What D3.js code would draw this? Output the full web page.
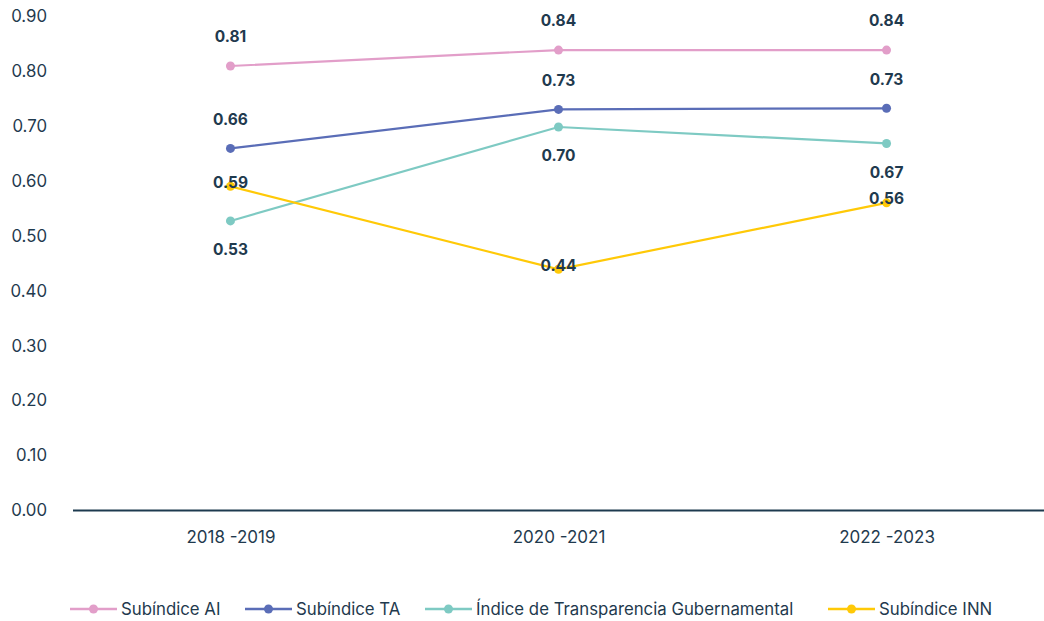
<!DOCTYPE html>
<html><head><meta charset="utf-8">
<script src="https://cdn.jsdelivr.net/npm/d3@7"></script>
<style>
body{margin:0;background:#fff;}
svg{display:block;font-family:"Inter","Roboto",sans-serif;}
</style></head>
<body><svg id="c" width="1044" height="621"></svg>
<script>
const categories = ["2018 -2019", "2020 -2021", "2022 -2023"];
const seriesNames = ["Subíndice AI", "Subíndice TA", "Índice de Transparencia Gubernamental", "Subíndice INN"];
const subAI = [0.809, 0.838, 0.838];
const subTA = [0.659, 0.730, 0.732];
const itg = [0.527, 0.698, 0.668];
const subINN = [0.590, 0.439, 0.560];
const labelsAI = ["0.81", "0.84", "0.84"];
const labelsTA = ["0.66", "0.73", "0.73"];
const labelsITG = ["0.53", "0.70", "0.67"];
const labelsINN = ["0.59", "0.44", "0.56"];
const yTicks = [0, 0.1, 0.2, 0.3, 0.4, 0.5, 0.6, 0.7, 0.8, 0.9];

const colors = ["#e29ec9", "#5a6db7", "#7ecac3", "#ffc907"];
const labelPos = ["above", "above", "below", "on"];
const series = [subAI, subTA, itg, subINN];
const labels = [labelsAI, labelsTA, labelsITG, labelsINN];
const textColor = "#1f3a4e";

const svg = d3.select("#c");
const x = d3.scalePoint().domain(categories).range([73, 1044]).padding(0.48);
const y = d3.scaleLinear().domain([0, 0.9]).range([510.5, 16]);

// y tick labels
svg.append("g").selectAll("text").data(yTicks).join("text")
  .attr("x", 47).attr("y", d => y(d)).attr("dy", "0.35em")
  .attr("text-anchor", "end").attr("fill", textColor)
  .style("font-size", "16.8px").text(d => d3.format(".2f")(d));

// x axis
const xAxis = svg.append("g").attr("transform", `translate(0,${y(0)})`)
  .call(d3.axisBottom(x).tickSize(0).tickPadding(20));
xAxis.select(".domain").attr("d", "M73,0H1044").attr("stroke", "#1d3a4f").attr("stroke-width", 2);
xAxis.selectAll("text").attr("fill", textColor).style("font-size", "17px")
  .style("font-family", "Inter, Roboto, sans-serif");

const line = d3.line().x((d, i) => x(categories[i])).y(d => y(d));

series.forEach((s, k) => {
  svg.append("path").datum(s).attr("d", line).attr("fill", "none")
    .attr("stroke", colors[k]).attr("stroke-width", 2.2);
});
series.forEach((s, k) => {
  svg.append("g").selectAll("circle").data(s).join("circle")
    .attr("cx", (d, i) => x(categories[i])).attr("cy", d => y(d)).attr("r", 4.5)
    .attr("fill", colors[k]);
});
series.forEach((s, k) => {
  const off = labelPos[k] === "above" ? -29 : labelPos[k] === "below" ? 29 : -4;
  svg.append("g").selectAll("text").data(s).join("text")
    .attr("x", (d, i) => x(categories[i])).attr("y", d => y(d) + off).attr("dy", "0.35em")
    .attr("text-anchor", "middle").attr("fill", textColor)
    .style("font-size", "15.5px").style("font-weight", "700")
    .text((d, i) => labels[k][i]);
});

// legend
const legX = [70, 245, 425, 828];
const lg = svg.append("g").attr("transform", "translate(0,609)");
seriesNames.forEach((n, k) => {
  const g = lg.append("g").attr("transform", `translate(${legX[k]},0)`);
  g.append("line").attr("x1", 0).attr("x2", 47).attr("y1", 0).attr("y2", 0)
    .attr("stroke", colors[k]).attr("stroke-width", 2.5);
  g.append("circle").attr("cx", 23.5).attr("cy", 0).attr("r", 4.5).attr("fill", colors[k]);
  g.append("text").attr("x", 51).attr("y", 0).attr("dy", "0.35em").attr("fill", textColor)
    .style("font-size", "16.8px").text(n);
});
</script></body></html>
